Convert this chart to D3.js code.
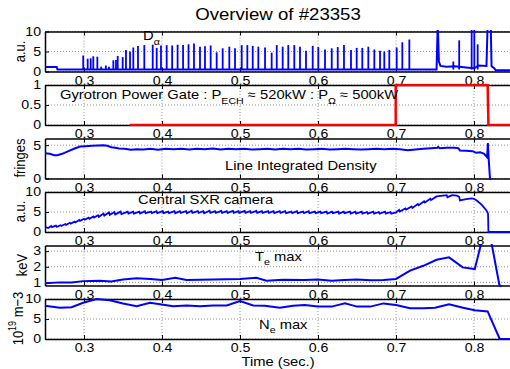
<!DOCTYPE html>
<html>
<head>
<meta charset="utf-8">
<script src="https://cdn.jsdelivr.net/npm/d3@7"></script>
<style>
  body { margin: 0; background: #fff; }
  svg { display: block; font-family: "Liberation Sans", Arial, sans-serif; }
</style>
</head>
<body>
<svg id="chart"></svg>
<script>
// time axis
const timeTicks = [0.3, 0.4, 0.5, 0.6, 0.7, 0.8];

// D-alpha: baseline trace + ELM spikes (time, peak)
const dalphaBase = [[0.250,1.1],[0.265,1.1],[0.266,0.5],[0.752,0.5],[0.7535,12],[0.755,2.5],[0.757,1.4],
  [0.765,1.2],[0.775,1.3],[0.790,1.0],[0.800,0.8],[0.806,1.5],[0.816,1.4],[0.8175,12],[0.8214,12],
  [0.8225,1.3],[0.826,0.8],[0.828,0.3],[0.850,0.3]];
const elmTimes = [0.299,0.3047,0.3086,0.3119,0.3171,0.322,0.328,0.332,0.3376,0.341,0.3432,0.3496,0.3538,
  0.359,0.3632,0.3692,0.3773,0.3881,0.3932,0.3987,0.406,0.413,0.420,0.427,0.434,0.441,0.4487,0.4551,
  0.4624,0.4701,0.4778,0.4863,0.4936,0.5022,0.5094,0.5163,0.5235,0.5321,0.5406,0.5471,0.5547,0.5619,
  0.5696,0.5769,0.5846,0.5932,0.6004,0.609,0.6176,0.6253,0.6333,0.6423,0.6496,0.6568,0.6645,0.6722,
  0.6795,0.685,0.6914,0.7009,0.7081,0.7171,0.7735,0.781,0.797,0.8004,0.8047];
const elmPeaks = [4.0,3.2,3.3,3.8,3.7,1.2,1.5,1.2,2.8,2.9,3.9,3.6,5.4,
  5.0,6.0,6.4,6.6,6.7,5.9,6.5,6.6,6.5,6.7,6.6,6.8,7.0,6.2,6.3,
  6.5,4.8,5.8,6.2,5.8,6.6,6.6,6.4,6.2,6.0,4.7,6.6,6.2,6.6,
  6.6,6.2,5.2,6.4,6.1,5.5,5.8,6.1,6.6,5.4,5.9,5.9,6.2,5.5,
  5.2,5.0,5.4,6.0,7.3,8.0,2.5,7.8,11,11,6.8];

// gyrotron power gate
const gyrotron = [[0.359,0],[0.6996,0],[0.6996,1],[0.8175,1],[0.8185,0],[0.850,0]];

// line integrated density (fringes)
const density = [[0.250,3.8],[0.256,3.7],[0.262,3.5],[0.266,3.5],[0.272,3.7],[0.280,4.1],[0.288,4.5],
  [0.295,4.8],[0.302,4.85],[0.310,4.9],[0.318,4.95],[0.325,5.0],[0.330,4.9],[0.335,4.7],[0.340,4.6],
  [0.345,4.5],[0.352,4.45],[0.360,4.3],[0.368,4.4],[0.376,4.35],[0.385,4.45],[0.395,4.3],[0.405,4.45],
  [0.415,4.4],[0.425,4.45],[0.435,4.35],[0.445,4.45],[0.455,4.4],[0.465,4.5],[0.475,4.35],[0.485,4.45],
  [0.495,4.4],[0.505,4.45],[0.515,4.35],[0.525,4.4],[0.535,4.45],[0.545,4.35],[0.555,4.45],[0.565,4.4],
  [0.575,4.45],[0.585,4.35],[0.595,4.4],[0.605,4.45],[0.615,4.35],[0.625,4.4],[0.635,4.45],[0.645,4.4],
  [0.655,4.35],[0.665,4.4],[0.675,4.45],[0.685,4.4],[0.695,4.45],[0.705,4.4],[0.715,4.25],[0.725,4.35],
  [0.735,4.45],[0.745,4.55],[0.753,4.6],[0.754,4.75],[0.756,4.55],[0.765,4.6],[0.775,4.6],[0.780,4.55],
  [0.782,4.2],[0.790,4.15],[0.798,4.1],[0.803,3.85],[0.808,3.95],[0.813,3.7],[0.8168,3.2],[0.8178,5.3],
  [0.8188,3.0],[0.8205,0],[0.823,-1]];

// central SXR camera (a.u.), sawtooth
const sxr = [[0.250,1.3],[0.254,1.0],[0.258,1.5],[0.259,1.2],[0.264,1.6],[0.265,1.3],[0.270,1.7],[0.271,1.5],
  [0.276,2.0],[0.277,1.8],[0.282,2.3],[0.283,2.1],[0.288,2.6],[0.289,2.4],[0.294,3.0],[0.295,2.8],
  [0.300,3.3],[0.301,3.1],[0.306,3.6],[0.307,3.3],[0.312,3.9],[0.313,3.6],[0.318,4.2],[0.319,3.8],
  [0.325,4.6],[0.326,4.1],[0.332,4.9],[0.333,4.3],[0.339,5.0],[0.340,4.4],[0.347,5.1],[0.348,4.5],
  [0.356,5.1],[0.357,4.6],[0.363,5.1],[0.364,4.6],[0.371,5.1],[0.372,4.6],[0.378,5.2],[0.379,4.7],
  [0.386,5.1],[0.387,4.7],[0.393,5.2],[0.394,4.7],[0.401,5.2],[0.402,4.7],[0.408,5.1],[0.409,4.7],
  [0.416,5.2],[0.417,4.7],[0.423,5.2],[0.424,4.8],[0.431,5.2],[0.432,4.7],[0.438,5.3],[0.439,4.8],
  [0.446,5.2],[0.447,4.8],[0.453,5.2],[0.454,4.7],[0.461,5.3],[0.462,4.8],[0.468,5.2],[0.469,4.8],
  [0.476,5.3],[0.477,4.8],[0.483,5.2],[0.484,4.8],[0.491,5.3],[0.492,4.8],[0.498,5.2],[0.499,4.8],
  [0.506,5.3],[0.507,4.8],[0.513,5.2],[0.514,4.8],[0.521,5.3],[0.522,4.8],[0.528,5.2],[0.529,4.8],
  [0.536,5.2],[0.537,4.8],[0.543,5.2],[0.544,4.7],[0.551,5.2],[0.552,4.8],[0.558,5.2],[0.559,4.7],
  [0.566,5.1],[0.567,4.7],[0.573,5.2],[0.574,4.7],[0.581,5.1],[0.582,4.7],[0.588,5.2],[0.589,4.7],
  [0.596,5.1],[0.597,4.7],[0.603,5.1],[0.604,4.7],[0.611,5.1],[0.612,4.6],[0.618,5.1],[0.619,4.7],
  [0.626,5.1],[0.627,4.6],[0.633,5.1],[0.634,4.7],[0.641,5.1],[0.642,4.6],[0.648,5.1],[0.649,4.6],
  [0.656,5.1],[0.657,4.6],[0.663,5.0],[0.664,4.6],[0.671,5.1],[0.672,4.6],[0.678,5.0],[0.679,4.6],
  [0.686,5.1],[0.687,4.6],[0.693,5.0],[0.694,4.6],[0.700,4.9],[0.704,5.5],[0.705,5.1],[0.712,5.9],
  [0.713,5.6],[0.720,6.4],[0.721,6.0],[0.728,7.0],[0.729,6.7],[0.736,7.7],[0.737,7.4],[0.744,8.3],
  [0.745,8.0],[0.752,8.9],[0.760,9.1],[0.765,9.2],[0.766,8.7],[0.772,9.2],[0.778,9.1],[0.781,8.8],
  [0.782,7.9],[0.790,8.2],[0.797,8.4],[0.800,8.3],[0.804,7.8],[0.810,6.8],[0.816,5.4],[0.8180,4.6],
  [0.8185,0],[0.850,0]];

// Te max (keV)
const teMax = [[0.250,0.95],[0.269,1.0],[0.284,1.0],[0.299,1.08],[0.320,1.1],[0.335,1.05],[0.350,1.19],
  [0.3675,1.26],[0.385,1.22],[0.400,1.15],[0.417,1.3],[0.4316,1.15],[0.449,1.17],[0.466,1.18],[0.483,1.2],
  [0.500,1.22],[0.521,1.3],[0.534,1.1],[0.555,1.17],[0.583,1.15],[0.600,1.18],[0.6175,1.1],[0.634,1.15],
  [0.650,1.18],[0.667,1.14],[0.684,1.15],[0.700,1.22],[0.718,1.75],[0.735,2.06],[0.752,2.45],[0.768,2.6],
  [0.7855,1.96],[0.801,1.85],[0.809,3.45],[0.815,3.9],[0.8227,3.45],[0.8325,0.85],[0.835,0.7]];

// Ne max (10^19 m-3)
const neMax = [[0.250,8.3],[0.269,7.8],[0.284,7.95],[0.299,9.05],[0.316,10.0],[0.333,9.7],[0.350,8.9],
  [0.3675,8.2],[0.3846,9.05],[0.3996,8.6],[0.4145,8.2],[0.4316,8.4],[0.4487,8.2],[0.4658,8.4],[0.483,8.4],
  [0.500,9.5],[0.517,8.4],[0.532,8.3],[0.551,7.8],[0.568,8.3],[0.583,8.5],[0.600,8.1],[0.6175,8.1],
  [0.6346,8.9],[0.650,8.1],[0.667,8.1],[0.684,8.9],[0.700,8.5],[0.718,7.7],[0.735,7.7],[0.750,7.8],
  [0.768,8.7],[0.786,7.8],[0.801,7.2],[0.8175,6.9],[0.833,0],[0.850,0]];

const WIDTH = 510;
const HEIGHT = 369;
const left = 45, plotW = 468;
const firstTop = 31.5, step = 53.5, panelH = 40;
const SX = 1.18;   // glyphs in the figure are drawn wider than tall

const svg = d3.select('#chart')
    .attr('width', WIDTH)
    .attr('height', HEIGHT);

const x = d3.scaleLinear()
    .domain([0.25, 0.85])
    .range([left, left + plotW]);

function styleAxis(sel) {
  sel.attr('font-size', 12).attr('font-family', null);
  sel.select('.domain').attr('stroke', '#000').attr('stroke-width', 1.5);
  sel.selectAll('.tick line').attr('stroke', '#000');
  sel.selectAll('.tick text').attr('fill', '#000');
}

function panel(i, yDomain, yTicks) {
  const top = firstTop + step * i, bottom = top + panelH;
  const y = d3.scaleLinear().domain(yDomain).range([bottom, top]);
  const g = svg.append('g');

  g.append('rect')
      .attr('x', left).attr('y', top)
      .attr('width', plotW).attr('height', panelH)
      .attr('fill', '#fff');

  // dotted grid
  g.append('g').selectAll('line')
      .data(timeTicks)
      .join('line')
      .attr('x1', d => x(d)).attr('x2', d => x(d))
      .attr('y1', top).attr('y2', bottom)
      .attr('stroke', '#777').attr('stroke-width', 0.8).attr('stroke-dasharray', '1,2');
  g.append('g').selectAll('line')
      .data(yTicks)
      .join('line')
      .attr('x1', left).attr('x2', left + plotW)
      .attr('y1', d => y(d)).attr('y2', d => y(d))
      .attr('stroke', '#777').attr('stroke-width', 0.8).attr('stroke-dasharray', '1,2');

  g.append('g')
      .attr('transform', `translate(0,${bottom})`)
      .call(d3.axisBottom(x).tickValues(timeTicks).tickSize(-4).tickSizeOuter(0)
          .tickPadding(4.5).tickFormat(d3.format('.1f')))
      .call(styleAxis)
      .selectAll('.tick text').attr('transform', `scale(${SX},1)`);
  g.append('g')
      .attr('transform', `translate(0,${top})`)
      .call(d3.axisTop(x).tickValues(timeTicks).tickSize(-4).tickSizeOuter(0).tickFormat(''))
      .call(styleAxis);
  g.append('g')
      .attr('transform', `translate(${left},0)`)
      .call(d3.axisLeft(y).tickValues(yTicks).tickSize(-4).tickSizeOuter(0)
          .tickPadding(4).tickFormat(d => String(d)))
      .call(styleAxis)
      .selectAll('.tick text').attr('x', -4 / SX).attr('transform', `scale(${SX},1)`);

  g.append('clipPath').attr('id', 'clip' + i)
      .append('rect')
      .attr('x', left).attr('y', top - 1.5)
      .attr('width', plotW).attr('height', panelH + 3);
  const data = g.append('g').attr('clip-path', `url(#clip${i})`);
  return {data, y, top, bottom};
}

const lineOf = (y) => d3.line().x(d => x(d[0])).y(d => y(d[1]));

// 1: D-alpha
const p1 = panel(0, [0, 10], [0, 5, 10]);
p1.data.append('path')
    .datum(dalphaBase)
    .attr('d', lineOf(p1.y))
    .attr('fill', 'none').attr('stroke', '#0000ff').attr('stroke-width', 2);
p1.data.selectAll('.elm')
    .data(elmTimes)
    .join('line')
    .attr('class', 'elm')
    .attr('x1', d => x(d)).attr('x2', d => x(d))
    .attr('y1', p1.y(0.5))
    .attr('y2', (d, k) => p1.y(elmPeaks[k]))
    .attr('stroke', '#0000ff').attr('stroke-width', 1.8);

// 2: gyrotron gate
const p2 = panel(1, [0, 1], [0, 0.5, 1]);
p2.data.append('path')
    .datum(gyrotron)
    .attr('d', lineOf(p2.y))
    .attr('fill', 'none').attr('stroke', '#ff0000').attr('stroke-width', 2.5);

// 3: density
const p3 = panel(2, [0, 6], [0, 5]);
p3.data.append('path')
    .datum(density)
    .attr('d', lineOf(p3.y))
    .attr('fill', 'none').attr('stroke', '#0000ff').attr('stroke-width', 2);

// 4: SXR
const p4 = panel(3, [0, 10], [0, 5, 10]);
p4.data.append('path')
    .datum(sxr)
    .attr('d', lineOf(p4.y))
    .attr('fill', 'none').attr('stroke', '#0000ff').attr('stroke-width', 1.8);

// 5: Te
const p5 = panel(4, [0.8, 3.36], [1, 2, 3]);
p5.data.append('path')
    .datum(teMax)
    .attr('d', lineOf(p5.y))
    .attr('fill', 'none').attr('stroke', '#0000ff').attr('stroke-width', 2);

// 6: Ne
const p6 = panel(5, [0, 10], [0, 5, 10]);
p6.data.append('path')
    .datum(neMax)
    .attr('d', lineOf(p6.y))
    .attr('fill', 'none').attr('stroke', '#0000ff').attr('stroke-width', 2);

// texts (stretched horizontally like the original)
function label(xx, yy, parts, opts = {}) {
  const t = svg.append('text')
      .attr('transform', `translate(${xx},${yy}) scale(${SX},1)` + (opts.rotate ? ' rotate(-90)' : ''))
      .attr('font-size', opts.size || 12.5)
      .attr('text-anchor', opts.anchor || 'start');
  parts.forEach(p => {
    t.append('tspan')
        .attr('dy', p.dy || 0)
        .attr('font-size', p.size || null)
        .text(p.s);
  });
  return t;
}

label(278, 20, [{s: 'Overview of #23353'}], {size: 15.8, anchor: 'middle'});
label(278, 366, [{s: 'Time (sec.)'}], {anchor: 'middle'});

label(143, 40, [{s: 'D'}, {s: 'α', size: 9, dy: 5}]);
label(60, 98.5, [
  {s: 'Gyrotron Power Gate : P'}, {s: 'ECH', size: 9, dy: 5},
  {s: ' ≈ 520kW : P', dy: -5}, {s: 'Ω', size: 9, dy: 5}, {s: ' ≈ 500kW', dy: -5}]);
label(225, 169.5, [{s: 'Line Integrated Density'}]);
label(138, 203.5, [{s: 'Central SXR camera'}]);
label(255, 261, [{s: 'T'}, {s: 'e', size: 9, dy: 4}, {s: ' max', dy: -4}]);
label(259, 328.5, [{s: 'N'}, {s: 'e', size: 9, dy: 4}, {s: ' max', dy: -4}]);

// rotated y labels
label(25, 51.5, [{s: 'a.u.'}], {rotate: true, anchor: 'middle', size: 13});
label(25, 158, [{s: 'fringes'}], {rotate: true, anchor: 'middle', size: 13});
label(25, 211.5, [{s: 'a.u.'}], {rotate: true, anchor: 'middle', size: 13});
label(27, 265, [{s: 'keV'}], {rotate: true, anchor: 'middle', size: 13});
label(23, 318.5, [{s: '10'}, {s: '19', size: 9, dy: -6}, {s: ' m−3', dy: 6}],
    {rotate: true, anchor: 'middle', size: 13});
</script>
</body>
</html>
